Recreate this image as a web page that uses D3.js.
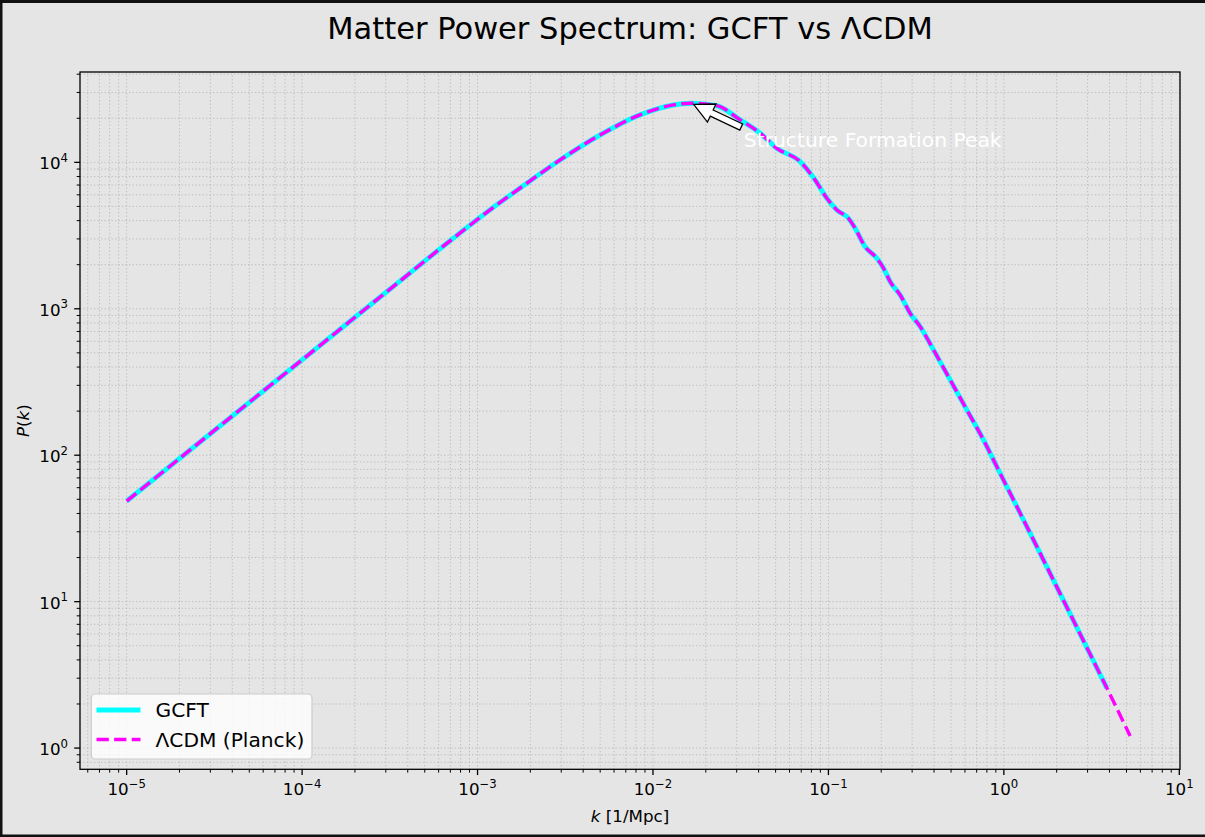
<!DOCTYPE html>
<html>
<head>
<meta charset="utf-8">
<script src="https://cdn.jsdelivr.net/npm/d3@7"></script>
<style>
  html, body { margin: 0; padding: 0; background: #e5e5e5; }
  svg { display: block; }
  text { font-family: "DejaVu Sans", sans-serif; fill: #000; }
</style>
</head>
<body>
<svg id="chart" width="1205" height="837"></svg>
<script>
// ---- data ----
const kValues = [1.0e-5, 3.16e-5, 1.0e-4, 3.16e-4, 7.28e-4, 1.34e-3, 1.75e-3, 2.95e-3, 4.99e-3, 8.43e-3,
  0.01306, 0.01648, 0.02312, 0.03141, 0.04083, 0.05082, 0.06902, 0.08395, 0.09795, 0.1117,
  0.1300, 0.1419, 0.1618, 0.1888, 0.2061, 0.2249, 0.2564, 0.2924, 0.3334, 0.3972,
  0.4943, 0.6152, 0.7656, 0.9120, 1.239, 1.683, 2.286, 3.105, 3.864, 5.248];
const lcdmP = [48.6, 147.6, 448, 1358, 3034, 5310, 6680, 10375, 15380, 21090,
  24660, 25350, 24380, 19500, 15810, 12470, 10120, 7586, 5689, 4732,
  4150, 3548, 2655, 2213, 1892, 1531, 1242, 931, 755, 524,
  327, 204, 127, 83.4, 40.1, 19.2, 9.16, 4.37, 2.57, 1.21];
const gcftP = [48.6, 147.6, 448, 1358, 3034, 5310, 6680, 10375, 15380, 21090,
  24660, 25350, 24380, 19500, 15810, 12470, 10120, 7586, 5689, 4732,
  4150, 3548, 2655, 2213, 1892, 1531, 1242, 931, 755, 524,
  327, 204, 127, 83.4, 40.1, 19.2, 9.16, 4.37, 2.57];
const seriesNames = ["GCFT", "ΛCDM (Planck)"];
const xTickExponents = [-5, -4, -3, -2, -1, 0, 1];
const yTickExponents = [0, 1, 2, 3, 4];
const xLimits = [Math.pow(10, -5.266), Math.pow(10, 1.004)];
const yLimits = [Math.pow(10, -0.145), Math.pow(10, 4.617)];
const titleText = "Matter Power Spectrum: GCFT vs ΛCDM";
const annotationText = "Structure Formation Peak";

(function () {
// ---- layout ----
const W = 1205, H = 837;
const pL = 80, pR = 1180, pT = 72, pB = 769.3;
const svg = d3.select("#chart");
const bg = "#e5e5e5";

svg.append("rect").attr("width", W).attr("height", H).attr("fill", bg);

const x = d3.scaleLog().domain(xLimits).range([pL, pR]);
const y = d3.scaleLog().domain(yLimits).range([pB, pT]);

svg.append("clipPath").attr("id", "clip").append("rect")
  .attr("x", pL).attr("y", pT).attr("width", pR - pL).attr("height", pB - pT);

function logTicks(lo, hi) {
  const maj = [], min = [];
  const e0 = Math.floor(Math.log10(lo)), e1 = Math.ceil(Math.log10(hi));
  for (let e = e0; e <= e1; e++) {
    for (let m = 1; m <= 9; m++) {
      const v = m * Math.pow(10, e);
      if (v < lo * 0.9999 || v > hi * 1.0001) continue;
      (m === 1 ? maj : min).push(v);
    }
  }
  return { maj, min };
}
const xt = logTicks(xLimits[0], xLimits[1]);
const yt = logTicks(yLimits[0], yLimits[1]);

// grid
const grid = svg.append("g").attr("clip-path", "url(#clip)");
const gridStyle = sel => sel.attr("stroke", "#b0b0b0").attr("stroke-width", 1)
  .attr("stroke-dasharray", "1.3,2.2").attr("stroke-opacity", 0.75);
grid.selectAll("line.gx").data(xt.maj.concat(xt.min)).join("line").attr("class", "gx")
  .attr("x1", d => x(d)).attr("x2", d => x(d)).attr("y1", pT).attr("y2", pB).call(gridStyle);
grid.selectAll("line.gy").data(yt.maj.concat(yt.min)).join("line").attr("class", "gy")
  .attr("y1", d => y(d)).attr("y2", d => y(d)).attr("x1", pL).attr("x2", pR).call(gridStyle);

// lines
const lcdmData = kValues.map((k, i) => ({ k, p: lcdmP[i] }));
const gcftData = gcftP.map((p, i) => ({ k: kValues[i], p }));
const line = d3.line().x(d => x(d.k)).y(d => y(d.p)).curve(d3.curveMonotoneX);
const plot = svg.append("g").attr("clip-path", "url(#clip)");
plot.append("path").datum(gcftData).attr("d", line)
  .attr("fill", "none").attr("stroke", "#00ffff").attr("stroke-width", 5)
  .attr("stroke-linecap", "butt").attr("stroke-linejoin", "round");
plot.append("path").datum(lcdmData).attr("d", line)
  .attr("fill", "none").attr("stroke", "#ff00ff").attr("stroke-width", 3.4)
  .attr("stroke-dasharray", "12.3,5.3").attr("stroke-linejoin", "round");

// spines
svg.append("rect").attr("x", pL).attr("y", pT).attr("width", pR - pL).attr("height", pB - pT)
  .attr("fill", "none").attr("stroke", "#000").attr("stroke-width", 1.3);

// x axis ticks
const xAxisG = svg.append("g");
xAxisG.selectAll("line.xmaj").data(xt.maj).join("line").attr("class", "xmaj")
  .attr("x1", d => x(d)).attr("x2", d => x(d)).attr("y1", pB).attr("y2", pB + 5.8)
  .attr("stroke", "#000").attr("stroke-width", 1.3);
xAxisG.selectAll("line.xmin").data(xt.min).join("line").attr("class", "xmin")
  .attr("x1", d => x(d)).attr("x2", d => x(d)).attr("y1", pB).attr("y2", pB + 3.3)
  .attr("stroke", "#000").attr("stroke-width", 1);
xTickExponents.forEach(e => {
  const t = xAxisG.append("text").attr("x", x(Math.pow(10, e))).attr("y", pB + 25.7)
    .attr("text-anchor", "middle").attr("font-size", 16.7);
  t.append("tspan").text("10");
  t.append("tspan").attr("dy", -7.5).attr("font-size", 11.7).text(String(e).replace("-", "\u2212"));
});

// y axis ticks
const yAxisG = svg.append("g");
yAxisG.selectAll("line.ymaj").data(yt.maj).join("line").attr("class", "ymaj")
  .attr("y1", d => y(d)).attr("y2", d => y(d)).attr("x1", pL).attr("x2", pL - 5.8)
  .attr("stroke", "#000").attr("stroke-width", 1.3);
yAxisG.selectAll("line.ymin").data(yt.min).join("line").attr("class", "ymin")
  .attr("y1", d => y(d)).attr("y2", d => y(d)).attr("x1", pL).attr("x2", pL - 3.3)
  .attr("stroke", "#000").attr("stroke-width", 1);
yTickExponents.forEach(e => {
  const t = yAxisG.append("text").attr("x", pL - 12).attr("y", y(Math.pow(10, e)) + 7)
    .attr("text-anchor", "end").attr("font-size", 16.7);
  t.append("tspan").text("10");
  t.append("tspan").attr("dy", -7.5).attr("font-size", 11.7).text(String(e).replace("-", "\u2212"));
});

// axis labels
const xl = svg.append("text").attr("x", (pL + pR) / 2).attr("y", 821.7)
  .attr("text-anchor", "middle").attr("font-size", 16.7);
xl.append("tspan").attr("font-style", "italic").text("k");
xl.append("tspan").text(" [1/Mpc]");
const yl = svg.append("text").attr("transform", `translate(29,${(pT + pB) / 2}) rotate(-90)`)
  .attr("text-anchor", "middle").attr("font-size", 16.7);
yl.append("tspan").attr("font-style", "italic").text("P");
yl.append("tspan").text("(");
yl.append("tspan").attr("font-style", "italic").text("k");
yl.append("tspan").text(")");

// title
svg.append("text").attr("x", (pL + pR) / 2).attr("y", 38.5)
  .attr("text-anchor", "middle").attr("font-size", 30.5).text(titleText);

// annotation
const iPeak = d3.maxIndex(gcftP);
const kPeak = kValues[iPeak], pPeak = gcftP[iPeak];
const tipX = x(kPeak), tipY = y(pPeak);
const annText = svg.append("text").attr("x", x(kPeak * 2)).attr("y", y(pPeak / 2))
  .attr("font-size", 20.3).style("fill", "#ffffff").text(annotationText);
const bb = annText.node().getBBox();
const cxs = [bb.x, bb.x + bb.width / 2, bb.x + bb.width];
const cys = [bb.y, bb.y + bb.height / 2, bb.y + bb.height];
const tx = cxs.reduce((a, b) => Math.abs(b - tipX) < Math.abs(a - tipX) ? b : a);
const ty = cys.reduce((a, b) => Math.abs(b - tipY) < Math.abs(a - tipY) ? b : a);
{
  const dx = tx - tipX, dy = ty - tipY, L = Math.hypot(dx, dy);
  const ux = dx / L, uy = dy / L, nx = -uy, ny = ux;
  const shrink = 0.05;
  const ax = tipX + ux * L * shrink, ay = tipY + uy * L * shrink;
  const bx = tipX + ux * L * (1 - shrink), by = tipY + uy * L * (1 - shrink);
  const hl = 20, hw = 20, sw = 6.7;
  const hx = ax + ux * hl, hy = ay + uy * hl;
  const pts = [
    [ax, ay],
    [hx + nx * hw / 2, hy + ny * hw / 2],
    [hx + nx * sw / 2, hy + ny * sw / 2],
    [bx + nx * sw / 2, by + ny * sw / 2],
    [bx - nx * sw / 2, by - ny * sw / 2],
    [hx - nx * sw / 2, hy - ny * sw / 2],
    [hx - nx * hw / 2, hy - ny * hw / 2]
  ];
  svg.append("polygon").attr("points", pts.map(p => p.join(",")).join(" "))
    .attr("fill", "#ffffff").attr("stroke", "#000").attr("stroke-width", 1.3)
    .attr("stroke-linejoin", "miter");
}
annText.raise();

// legend
const lg = svg.append("g");
lg.append("rect").attr("x", 91.3).attr("y", 694).attr("width", 220.7).attr("height", 65)
  .attr("rx", 4).attr("fill", "#ffffff").attr("fill-opacity", 0.8)
  .attr("stroke", "#cccccc").attr("stroke-width", 1.2);
lg.append("line").attr("x1", 96.5).attr("x2", 140.5).attr("y1", 710).attr("y2", 710)
  .attr("stroke", "#00ffff").attr("stroke-width", 5);
lg.append("line").attr("x1", 96.5).attr("x2", 140.5).attr("y1", 739.5).attr("y2", 739.5)
  .attr("stroke", "#ff00ff").attr("stroke-width", 3.4).attr("stroke-dasharray", "12.3,5.3");
lg.append("text").attr("x", 155.5).attr("y", 717.3).attr("font-size", 20.2).text(seriesNames[0]);
lg.append("text").attr("x", 155.5).attr("y", 746.8).attr("font-size", 20.2).text(seriesNames[1]);

// window border (top, left, bottom)
svg.append("rect").attr("x", 0).attr("y", 0).attr("width", W).attr("height", 3).attr("fill", "#111");
svg.append("rect").attr("x", 0).attr("y", 0).attr("width", 2.5).attr("height", H).attr("fill", "#111");
svg.append("rect").attr("x", 0).attr("y", H - 2.5).attr("width", W).attr("height", 2.5).attr("fill", "#111");
})();
</script>
</body>
</html>
